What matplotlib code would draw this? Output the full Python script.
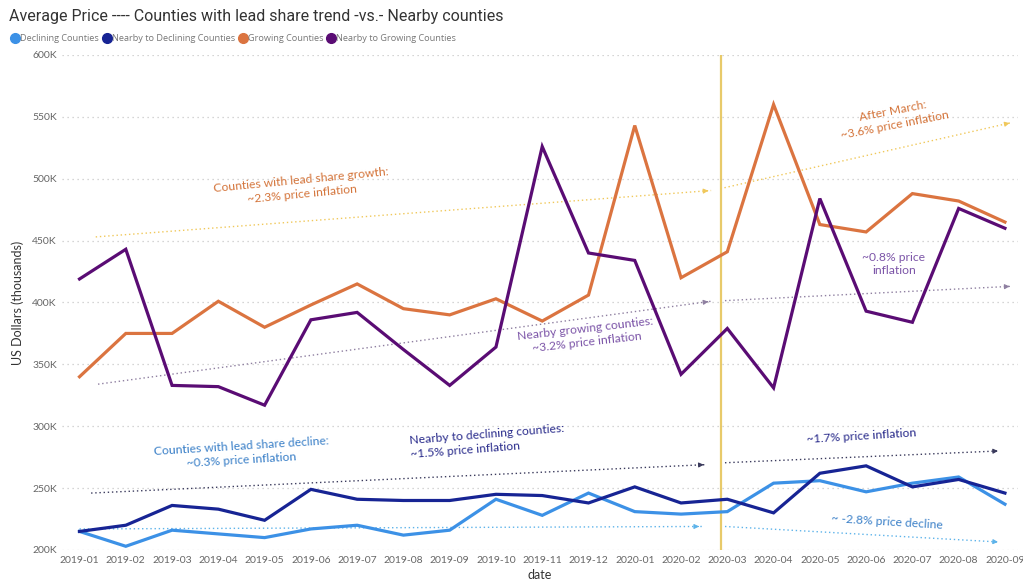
import matplotlib
matplotlib.use("Agg")
import matplotlib.pyplot as plt
from matplotlib.lines import Line2D

# data (thousands of US dollars)
months = ["2019-01", "2019-02", "2019-03", "2019-04", "2019-05", "2019-06", "2019-07",
          "2019-08", "2019-09", "2019-10", "2019-11", "2019-12", "2020-01", "2020-02",
          "2020-03", "2020-04", "2020-05", "2020-06", "2020-07", "2020-08", "2020-09"]
declining = [215, 203, 216, 213, 210, 217, 220, 212, 216, 241, 228, 246, 231, 229,
             231, 254, 256, 247, 254, 259, 237]
nearby_declining = [215, 220, 236, 233, 224, 249, 241, 240, 240, 245, 244, 238, 251, 238,
                    241, 230, 262, 268, 251, 257, 246]
growing = [340, 375, 375, 401, 380, 398, 415, 395, 390, 403, 385, 406, 543, 420,
           441, 560, 463, 457, 488, 482, 465]
nearby_growing = [419, 443, 333, 332, 317, 386, 392, 362, 333, 364, 526, 440, 434, 342,
                  379, 331, 484, 393, 384, 476, 460]

series_names = ["Declining Counties", "Nearby to Declining Counties",
                "Growing Counties", "Nearby to Growing Counties"]
colors = ["#3C91E6", "#172494", "#DB7440", "#5A0C74"]

# hand-drawn trend arrows: (x0, y0, x1, y1, color)
trends = [
    (0.35, 453, 13.65, 490.5, "#F0C85A"),
    (13.85, 492, 20.1, 545, "#F0C85A"),
    (0.4, 334, 13.65, 401, "#8E7FA0"),
    (13.95, 401.5, 20.1, 413, "#8E7FA0"),
    (0.25, 246, 13.55, 269, "#3A3A5C"),
    (13.95, 270.5, 19.85, 280, "#3A3A5C"),
    (0.0, 217, 13.45, 219, "#5DB3EA"),
    (13.95, 219, 19.85, 206.5, "#5DB3EA"),
]

# notes: (x, y, text, color, rotation, ha)
notes = [
    (4.8, 493, "Counties with lead share growth:\n~2.3% price inflation", "#D4743A", 5.5, "center"),
    (17.6, 549, "After March:\n~3.6% price inflation", "#D4743A", 11, "center"),
    (10.95, 373, "Nearby growing counties:\n~3.2% price inflation", "#7C55A8", 6.5, "center"),
    (17.6, 431, "~0.8% price\ninflation", "#7C55A8", 0, "center"),
    (3.5, 278, "Counties with lead share decline:\n~0.3% price inflation", "#3B80C8", 3.5, "center"),
    (7.15, 283, "Nearby to declining counties:\n~1.5% price inflation", "#2A2C8C", 4.5, "left"),
    (16.9, 292, "~1.7% price inflation", "#2A2C8C", 3.5, "center"),
    (17.45, 223, "~ -2.8% price decline", "#3B80C8", -3.5, "center"),
]

plt.rcParams["font.family"] = ["Lato", "DejaVu Sans"]

fig = plt.figure(figsize=(10.23, 5.82), dpi=100)
ax = fig.add_axes([0.061, 0.055, 0.934, 0.8505])

x = list(range(len(months)))
for vals, name, c in zip([declining, nearby_declining, growing, nearby_growing],
                         series_names, colors):
    ax.plot(x, vals, color=c, lw=2.3, label=name, zorder=3, solid_joinstyle="miter")

for x0, y0, x1, y1, c in trends:
    ax.plot([x0, x1], [y0, y1], color=c, lw=1.0, ls=(0, (1, 2)), zorder=2)
    dx, dy = (x1 - x0) * 0.01, (y1 - y0) * 0.01
    ax.annotate("", xy=(x1, y1), xytext=(x1 - dx, y1 - dy),
                arrowprops=dict(arrowstyle="-|>", color=c, lw=0.8, mutation_scale=7))

for nx, ny, txt, c, rot, ha in notes:
    ax.text(nx, ny, txt, color=c, fontsize=8.7, rotation=rot, ha=ha, va="center",
            rotation_mode="anchor", linespacing=1.3, zorder=4)

# March 2020 marker
ax.axvline(13.86, color="#E8CA6A", lw=1.6, zorder=1)

ax.set_xlim(-0.37, 20.28)
ax.set_ylim(200, 600)
ax.set_xticks(x)
ax.set_xticklabels(months, fontsize=7.5, color="#666666")
yt = list(range(200, 601, 50))
ax.set_yticks(yt)
ax.set_yticklabels([f"{v}K" for v in yt], fontsize=7.5, color="#666666")
ax.tick_params(length=0, pad=4)
ax.grid(axis="y", color="#C8C8C8", ls=(0, (1, 3)), lw=0.9)
for s in ax.spines.values():
    s.set_visible(False)

ax.set_xlabel("date", fontsize=9, color="#333333", labelpad=3)
ax.set_ylabel("US Dollars (thousands)", fontsize=9, color="#333333", labelpad=6)

fig.text(0.009, 0.972, "Average Price ---- Counties with lead share trend -vs.- Nearby counties",
         fontsize=11.5, color="#333333", va="center", family=["Roboto", "DejaVu Sans"])

handles = [Line2D([], [], marker="o", ls="", color=c, markersize=7) for c in colors]
fig.legend(handles, series_names, loc="upper left", bbox_to_anchor=(0.002, 0.955), ncol=4,
           frameon=False, handletextpad=0.0, columnspacing=0.3,
           handlelength=1.1, labelcolor="#777777",
           prop={"family": ["Open Sans", "DejaVu Sans"], "size": 6.6})

fig.savefig("out.png", dpi=100)
